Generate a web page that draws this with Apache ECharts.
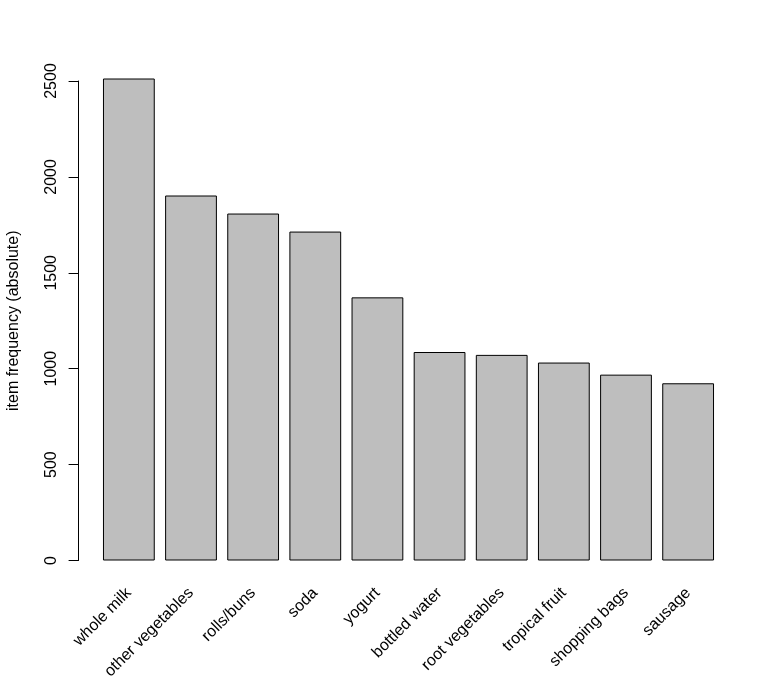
<!DOCTYPE html>
<html>
<head>
<meta charset="utf-8">
<script src="https://cdn.jsdelivr.net/npm/echarts@6/dist/echarts.min.js"></script>
<style>
  html, body { margin: 0; padding: 0; background: #fff; }
  #chart { width: 779px; height: 697px; }
</style>
</head>
<body>
<div id="chart"></div>
<script>
// item frequencies (absolute), top 10 items
var items = ['whole milk', 'other vegetables', 'rolls/buns', 'soda', 'yogurt',
             'bottled water', 'root vegetables', 'tropical fruit', 'shopping bags', 'sausage'];
var counts = [2513, 1903, 1809, 1715, 1372, 1087, 1072, 1032, 969, 924];
var yTicks = [0, 500, 1000, 1500, 2000, 2500];

var font = '"Liberation Sans", Arial, Helvetica, sans-serif';

var chart = echarts.init(document.getElementById('chart'));

var option = {
    animation: false,
    backgroundColor: '#fff',
    grid: {
        left: 97.8,
        right: 59.8,
        top: 81,
        bottom: 136.5,
        containLabel: false,
        outerBoundsMode: 'none'
    },
    xAxis: {
        type: 'category',
        data: items,
        axisLine: { show: false },
        axisTick: { show: false },
        axisLabel: {
            interval: 0,
            rotate: 45,
            margin: 30,
            color: '#000',
            fontSize: 16,
            fontFamily: font
        }
    },
    yAxis: {
        type: 'value',
        min: yTicks[0],
        max: yTicks[yTicks.length - 1],
        interval: 500,
        offset: 19.2,
        name: 'item frequency (absolute)',
        nameLocation: 'middle',
        nameRotate: 90,
        nameGap: 57,
        nameTextStyle: { color: '#000', fontSize: 16, fontFamily: font },
        axisLine: { show: true, lineStyle: { color: '#000', width: 1 } },
        axisTick: { show: true, length: 10, lineStyle: { color: '#000', width: 1 } },
        axisLabel: {
            rotate: 90,
            margin: 19,
            color: '#000',
            fontSize: 16,
            fontFamily: font,
            formatter: function (v) { return String(v); }
        },
        splitLine: { show: false }
    },
    series: [{
        type: 'bar',
        data: counts,
        barCategoryGap: '16.67%',
        clip: false,
        itemStyle: {
            color: '#bebebe',
            borderColor: '#000',
            borderWidth: 1
        }
    }]
};
chart.setOption(option);
</script>
</body>
</html>
